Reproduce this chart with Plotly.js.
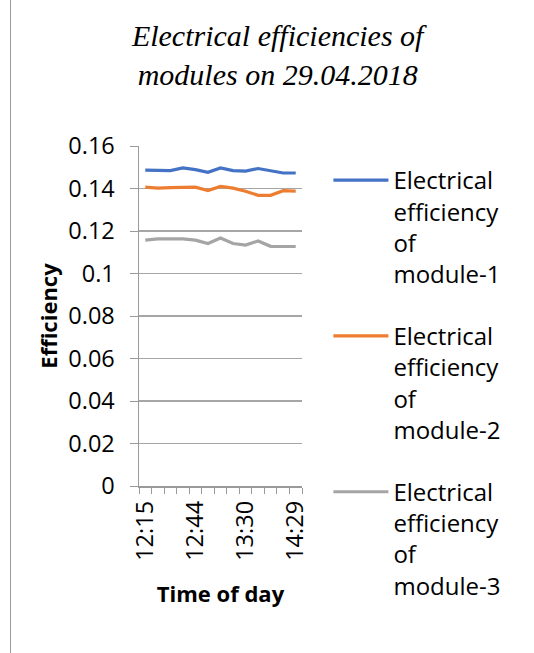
<!DOCTYPE html>
<html>
<head>
<meta charset="utf-8">
<script src="https://cdn.plot.ly/plotly-3.0.1.min.js"></script>
<style>
html,body{margin:0;padding:0;background:#fff;}
#chart{width:534px;height:653px;position:absolute;left:0;top:0;}
#frame{position:absolute;left:10px;top:0;width:1px;height:653px;background:#9a9a9a;}
</style>
</head>
<body>
<div id="chart"></div>
<div id="frame"></div>
<script>
const times = ["12:15","12:22","12:29","12:37","12:44","12:55","13:07","13:18","13:30","13:45","13:59","14:14","14:29"];
const shownTicks = ["12:15","12:44","13:30","14:29"];
const module1 = [0.1486,0.1484,0.1484,0.1497,0.1489,0.1476,0.1497,0.1484,0.1482,0.1494,0.1482,0.1473,0.1473];
const module2 = [0.1406,0.1402,0.1404,0.1406,0.1406,0.1390,0.1410,0.1402,0.1387,0.1368,0.1368,0.1390,0.1388];
const module3 = [0.1157,0.1163,0.1163,0.1163,0.1157,0.1141,0.1167,0.1141,0.1134,0.1153,0.1128,0.1127,0.1127];
const seriesNames = ["Electrical<br>efficiency<br>of<br>module-1","Electrical<br>efficiency<br>of<br>module-2","Electrical<br>efficiency<br>of<br>module-3"];
const colors = ["#4472C4","#ED7D31","#A5A5A5"];

const font = "Open Sans, Noto Sans, sans-serif";
const data = [module1, module2, module3].map((ys, i) => ({
  x: times, y: ys, type: "scatter", mode: "lines",
  name: seriesNames[i], legendgroup: "g" + i,
  line: {color: colors[i], width: 3.2}
}));

const layout = {
  width: 534, height: 653,
  margin: {l: 139, r: 232, t: 146, b: 167},
  paper_bgcolor: "#fff", plot_bgcolor: "#fff",
  title: {
    text: "Electrical efficiencies of<br>modules on 29.04.2018",
    font: {family: "Liberation Serif, serif", size: 30, style: "italic", color: "#000"},
    x: 0.52, xanchor: "center", xref: "container",
    y: 0.93, yanchor: "top", yref: "container"
  },
  xaxis: {
    type: "category", range: [-0.5, 12.5],
    tickvals: times, ticktext: times.map(t => shownTicks.includes(t) ? t : ""),
    tickson: "boundaries", ticks: "outside", ticklen: 6, tickcolor: "#9a9a9a",
    tickangle: -90, tickfont: {family: font, size: 23.5, color: "#000"},
    ticklabelstandoff: 4,
    showgrid: false, showline: true, linecolor: "#9a9a9a", linewidth: 1.5,
    zeroline: false,
    title: {text: "<b>Time of day</b>", font: {family: font, size: 22, color: "#000"}, standoff: 27}
  },
  yaxis: {
    range: [0, 0.16], dtick: 0.02, tick0: 0,
    ticks: "outside", ticklen: 8, tickcolor: "#9a9a9a",
    tickfont: {family: font, size: 23.5, color: "#000"},
    ticklabelstandoff: 10,
    showgrid: true, gridcolor: "#a6a6a6", gridwidth: 1.3,
    showline: true, linecolor: "#9a9a9a", linewidth: 1.5, zeroline: false,
    title: {text: "<b>Efficiency</b>", font: {family: font, size: 22, color: "#000"}, standoff: 4}
  },
  legend: {
    xref: "container", yref: "container",
    x: 0.615, xanchor: "left", y: 0.758, yanchor: "top",
    font: {family: font, size: 24, color: "#000"},
    itemwidth: 55, valign: "top", tracegroupgap: 28, maxheight: 640,
    bgcolor: "rgba(0,0,0,0)"
  },
  showlegend: true
};

Plotly.newPlot("chart", data, layout, {staticPlot: true, displayModeBar: false});
</script>
</body>
</html>
